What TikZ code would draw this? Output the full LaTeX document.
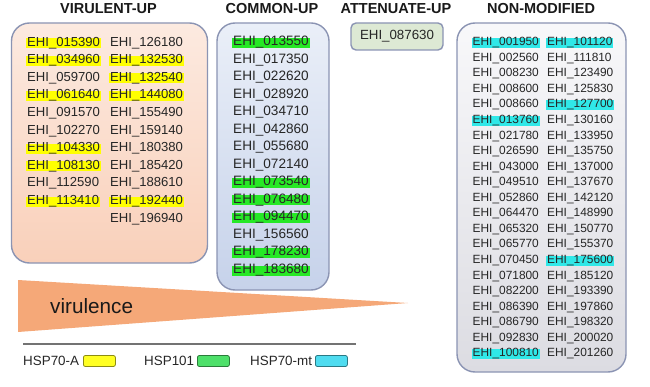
\documentclass[tikz,border=0pt]{standalone}
\usepackage{fontspec}
\setmainfont{Liberation Sans}
\definecolor{txt}{HTML}{262626}
\definecolor{bord}{HTML}{8B94B3}
\definecolor{virT}{HTML}{FCEAE0}
\definecolor{virB}{HTML}{F9D0BA}
\definecolor{comT}{HTML}{EAEFF8}
\definecolor{comB}{HTML}{C6D2EA}
\definecolor{attF}{HTML}{DDE9D4}
\definecolor{nonT}{HTML}{F8F8FA}
\definecolor{nonB}{HTML}{DCDCE2}
\definecolor{hspA}{HTML}{FFFF00}
\definecolor{hspB}{HTML}{26E826}
\definecolor{hspC}{HTML}{30E8E8}
\definecolor{legA}{HTML}{FFFF22}
\definecolor{legB}{HTML}{4EE06A}
\definecolor{legC}{HTML}{4FDCF0}
\definecolor{tri}{HTML}{F5A878}
\tikzset{
  x=1pt, y=-1pt,
  gene/.style={anchor=west, text=txt, inner xsep=1pt, inner ysep=0pt, text height=0.78em, text depth=0.22em},
  gv/.style={gene, font=\fontsize{13.1}{14}\selectfont},
  gc/.style={gene, font=\fontsize{13.6}{14}\selectfont},
  gn/.style={gene, font=\fontsize{11.9}{13}\selectfont},
  pl/.style={},
  hy/.style={fill=hspA},
  hg/.style={fill=hspB},
  hc/.style={fill=hspC},
  grp/.style={draw=bord, line width=1.4pt, rounded corners=18pt, inner sep=0pt},
  ttl/.style={font=\bfseries\fontsize{14.5}{16}\selectfont, text=black!90, inner sep=0pt},
  legtxt/.style={font=\fontsize{13.4}{15}\selectfont, text=txt, anchor=west, inner sep=0pt},
  legbox/.style={draw=#1!55!black, fill=#1, rounded corners=2pt, line width=0.8pt, minimum width=32pt, minimum height=11pt, inner sep=0pt, anchor=west},
}
\begin{document}
\begin{tikzpicture}
\useasboundingbox (0,0) rectangle (650,387);
% group boxes
\node[grp, top color=virT, bottom color=virB, minimum width=196pt, minimum height=240pt] (B1) at (109.5,143) {};
\node[grp, top color=comT, bottom color=comB, minimum width=112pt, minimum height=267pt] (B2) at (273,156.5) {};
\node[grp, rounded corners=5pt, fill=attF, minimum width=92pt, minimum height=27pt, font=\fontsize{13.3}{14}\selectfont, text=txt] (B3) at (397,36.5) {EHI\_087630};
\node[grp, top color=nonT, bottom color=nonB, minimum width=169pt, minimum height=349pt] (B4) at (541.5,197.5) {};
% titles
\node[ttl] (t1) at (108.5,9) {VIRULENT-UP};
\node[ttl] (t2) at (272,9) {COMMON-UP};
\node[ttl] (t3) at (396,9) {ATTENUATE-UP};
\node[ttl] (t4) at (541,9) {NON-MODIFIED};
% virulent-up
\foreach \g/\s [count=\i] in {015390/hy,034960/hy,059700/pl,061640/hy,091570/pl,102270/pl,104330/hy,108130/hy,112590/pl,113410/hy}
  \node[gv,\s] (va\i) at (26,{43.3+(\i-1)*17.6}) {EHI\_\g};
\foreach \g/\s [count=\i] in {126180/pl,132530/hy,132540/hy,144080/hy,155490/pl,159140/pl,180380/pl,185420/pl,188610/pl,192440/hy,196940/pl}
  \node[gv,\s] (vb\i) at (109,{43.3+(\i-1)*17.6}) {EHI\_\g};
% common-up
\foreach \g/\s [count=\i] in {013550/hg,017350/pl,022620/pl,028920/pl,034710/pl,042860/pl,055680/pl,072140/pl,073540/hg,076480/hg,094470/hg,156560/pl,178230/hg,183680/hg}
  \node[gc,\s] (c\i) at (232,{43+(\i-1)*17.5}) {EHI\_\g};
% non-modified
\foreach \g/\s [count=\i] in {001950/hc,002560/pl,008230/pl,008600/pl,008660/pl,013760/hc,021780/pl,026590/pl,043000/pl,049510/pl,052860/pl,064470/pl,065320/pl,065770/pl,070450/pl,071800/pl,082200/pl,086390/pl,086790/pl,092830/pl,100810/hc}
  \node[gn,\s] (na\i) at (471.5,{43+(\i-1)*15.55}) {EHI\_\g};
\foreach \g/\s [count=\i] in {101120/hc,111810/pl,123490/pl,125830/pl,127700/hc,130160/pl,133950/pl,135750/pl,137000/pl,137670/pl,142120/pl,148990/pl,150770/pl,155370/pl,175600/hc,185120/pl,193390/pl,197860/pl,198320/pl,200020/pl,201260/pl}
  \node[gn,\s] (nb\i) at (546,{43+(\i-1)*15.55}) {EHI\_\g};
% virulence wedge
\fill[tri] (18,280) -- (408,303) -- (18,332) -- cycle;
\node[anchor=west, inner sep=0pt, font=\fontsize{20.7}{22}\selectfont, text=black!90] (vir) at (50,306) {virulence};
% separator line
\coordinate (l1) at (23,344);
\coordinate (l2) at (356,344);
\draw[line width=1.5pt, draw=black!55] (l1) -- (l2);
% legend
\node[legtxt] (la) at (23,361) {HSP70-A};
\node[legbox=legA] (lba) at (83,361) {};
\node[legtxt] (lb) at (144,361) {HSP101};
\node[legbox=legB] (lbb) at (197,361) {};
\node[legtxt] (lc) at (250,361) {HSP70-mt};
\node[legbox=legC] (lbc) at (315,361) {};
\end{tikzpicture}
\end{document}
